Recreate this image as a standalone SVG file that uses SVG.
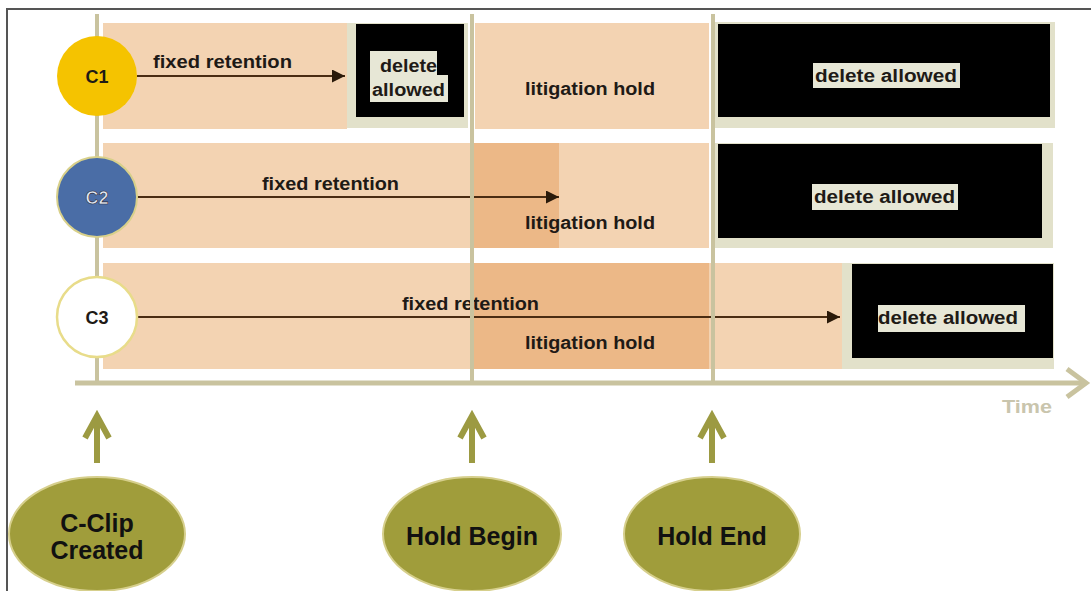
<svg xmlns="http://www.w3.org/2000/svg" width="1091" height="591" viewBox="0 0 1091 591">
<defs>
<style>
.peach{fill:#f3d3b2}
.dpeach{fill:#ecb887}
.beige{fill:#e2e1ca}
.blk{fill:#000}
.hl{fill:#e7e7d6}
.t{font-family:"Liberation Sans",Arial,sans-serif;font-weight:bold;font-size:18px;fill:#1e1a16}
.tl{stroke:#c9c39f;stroke-width:4;fill:none}
.conn{stroke:#4a2c12;stroke-width:2;fill:none}
.olive{fill:#a09d3b;stroke:#d6cf8c;stroke-width:2}
.oarrow{stroke:#9c9a42;stroke-width:6;fill:none}
.et{font-family:"Liberation Sans",Arial,sans-serif;font-weight:bold;font-size:25px;fill:#111;text-anchor:middle}
</style>
<marker id="ah" viewBox="0 0 10 10" refX="10" refY="5" markerWidth="6.5" markerHeight="6.5" orient="auto" markerUnits="strokeWidth">
<path d="M0,0 L10,5 L0,10 z" fill="#2a1a0a"/>
</marker>
</defs>
<rect width="1091" height="591" fill="#ffffff"/>
<path d="M7,591 L7,9 L1091,9" stroke="#555" stroke-width="2" fill="none"/>

<g id="row1">
<rect class="peach" x="103" y="23" width="244" height="106"/>
<text class="t" x="153" y="68" textLength="139" lengthAdjust="spacingAndGlyphs">fixed retention</text>
<rect class="beige" x="347" y="23" width="121" height="105"/>
<rect class="blk" x="356" y="24" width="108" height="93"/>
<path class="hl" d="M370,51 H437 V75 H448 V102 H370 Z"/>
<text class="t" x="380" y="72" textLength="57" lengthAdjust="spacingAndGlyphs">delete</text>
<text class="t" x="372" y="96" textLength="73" lengthAdjust="spacingAndGlyphs">allowed</text>
<rect class="peach" x="475" y="23" width="234" height="106"/>
<text class="t" x="525" y="95" textLength="130" lengthAdjust="spacingAndGlyphs">litigation hold</text>
<rect class="beige" x="715" y="22" width="340" height="106"/>
<rect class="blk" x="718" y="24" width="332" height="93"/>
<rect class="hl" x="813" y="63" width="147" height="25"/>
<text class="t" x="815" y="82" textLength="142" lengthAdjust="spacingAndGlyphs">delete allowed</text>
</g>

<g id="row2">
<rect class="peach" x="103" y="143" width="606" height="105"/>
<rect class="dpeach" x="472" y="143" width="87" height="105"/>
<text class="t" x="262" y="190" textLength="137" lengthAdjust="spacingAndGlyphs">fixed retention</text>
<text class="t" x="525" y="229" textLength="130" lengthAdjust="spacingAndGlyphs">litigation hold</text>
<rect class="beige" x="715" y="143" width="338" height="105"/>
<rect class="blk" x="718" y="144" width="324" height="94"/>
<rect class="hl" x="812" y="184" width="146" height="26"/>
<text class="t" x="814" y="203" textLength="141" lengthAdjust="spacingAndGlyphs">delete allowed</text>
</g>

<g id="row3">
<rect class="peach" x="103" y="263" width="740" height="106"/>
<rect class="dpeach" x="472" y="263" width="237" height="106"/>
<text class="t" x="402" y="310" textLength="137" lengthAdjust="spacingAndGlyphs">fixed retention</text>
<text class="t" x="525" y="349" textLength="130" lengthAdjust="spacingAndGlyphs">litigation hold</text>
<rect class="beige" x="842" y="263" width="212" height="106"/>
<rect class="blk" x="852" y="264" width="201" height="94"/>
<rect class="hl" x="878" y="305" width="147" height="27"/>
<text class="t" x="878" y="324" textLength="140" lengthAdjust="spacingAndGlyphs">delete allowed</text>
</g>

<g id="connectors">
<line class="conn" x1="137" y1="76" x2="345" y2="76" marker-end="url(#ah)"/>
<line class="conn" x1="137" y1="197" x2="559" y2="197" marker-end="url(#ah)"/>
<line class="conn" x1="137" y1="317" x2="840" y2="317" marker-end="url(#ah)"/>
<path class="oarrow" d="M97,463 V416 M85,438 L97,416 L109,438"/>
<path class="oarrow" d="M472,463 V416 M460,438 L472,416 L484,438"/>
<path class="oarrow" d="M712,463 V416 M700,438 L712,416 L724,438"/>
</g>

<g id="timeline">
<line class="tl" x1="97" y1="14" x2="97" y2="383"/>
<line class="tl" x1="472" y1="14" x2="472" y2="383"/>
<line class="tl" x1="713" y1="14" x2="713" y2="383"/>
<line x1="75" y1="383" x2="1085" y2="383" stroke="#c9c39f" stroke-width="5"/>
<polyline points="1067,369 1086,383 1067,397" stroke="#c9c39f" stroke-width="5" fill="none"/>
<text x="1002" y="413" font-family="Liberation Sans, Arial, sans-serif" font-weight="bold" font-size="18" fill="#c9c5ad" textLength="50" lengthAdjust="spacingAndGlyphs">Time</text>
</g>

<g id="c1">
<circle cx="97" cy="76" r="40" fill="#f5c300"/>
<text class="t" x="97" y="83" text-anchor="middle">C1</text>
</g>
<g id="c2">
<circle cx="97" cy="197" r="40" fill="#4a6da6" stroke="#d8d08a" stroke-width="2"/>
<text class="t" x="97" y="204" text-anchor="middle" style="fill:#e4e9f2;stroke:#2a2a3a;stroke-width:0.6">C2</text>
</g>
<g id="c3">
<circle cx="97" cy="317" r="40" fill="#ffffff" stroke="#e8dc8a" stroke-width="2.5"/>
<text class="t" x="97" y="324" text-anchor="middle">C3</text>
</g>

<g id="cclip">
<ellipse class="olive" cx="97" cy="534" rx="88" ry="57"/>
<text class="et" x="97" y="532">C-Clip</text>
<text class="et" x="97" y="559">Created</text>
</g>
<g id="holdbegin">
<ellipse class="olive" cx="472" cy="534" rx="89" ry="57"/>
<text class="et" x="472" y="545">Hold Begin</text>
</g>
<g id="holdend">
<ellipse class="olive" cx="712" cy="534" rx="88" ry="57"/>
<text class="et" x="712" y="545">Hold End</text>
</g>
</svg>
